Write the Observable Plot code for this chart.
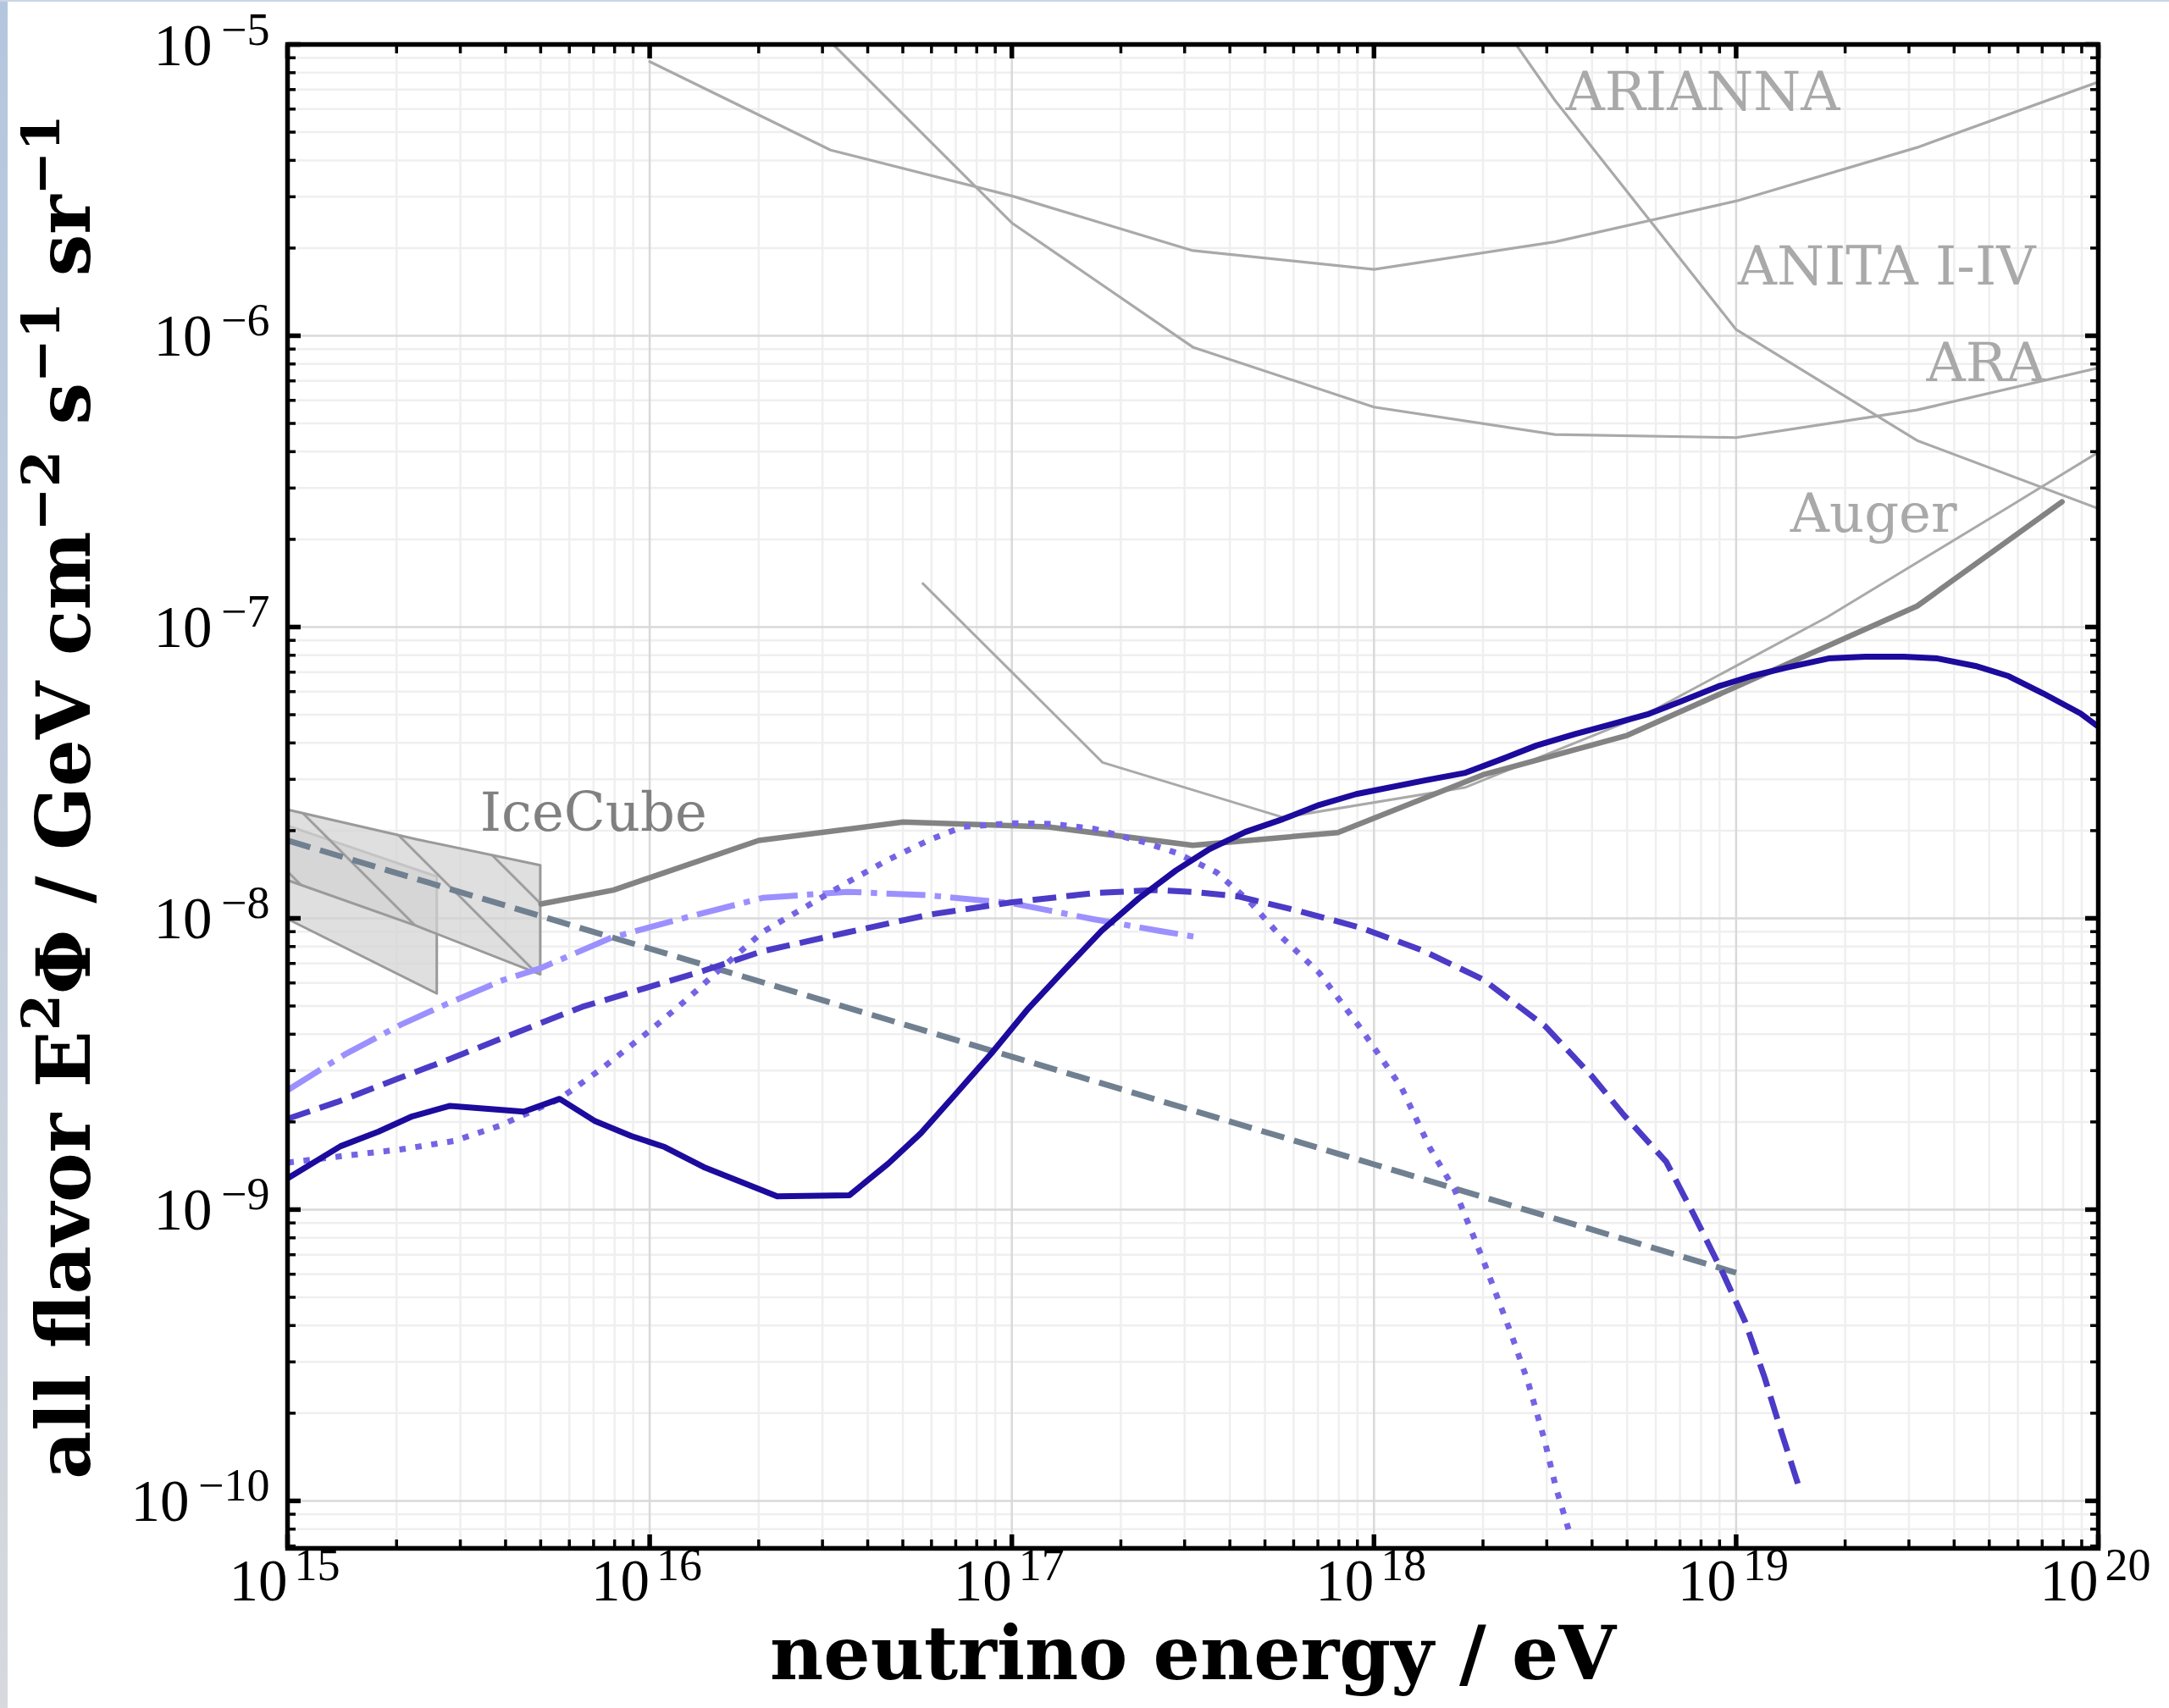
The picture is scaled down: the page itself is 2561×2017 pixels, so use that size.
<!DOCTYPE html>
<html>
<head>
<meta charset="utf-8">
<script src="https://cdn.jsdelivr.net/npm/d3@7"></script>
<script src="https://cdn.jsdelivr.net/npm/@observablehq/plot@0.6"></script>
<style>
  html, body { margin: 0; padding: 0; background: #ffffff; }
  #chart { position: absolute; left: 0; top: 0; }
  #edgeL { position: absolute; left: 0; top: 0; width: 9px; height: 2017px; background: linear-gradient(#b4c6de, #d6d9de); }
  #edgeT { position: absolute; left: 0; top: 0; width: 2561px; height: 2px; background: #c9d5e5; }
</style>
</head>
<body>
<div id="chart"></div>
<div id="edgeL"></div>
<div id="edgeT"></div>
<script>
// ---------------- data (energy in eV, flux E^2 Phi in GeV cm^-2 s^-1 sr^-1) ----------------
const xTickExponents = [15, 16, 17, 18, 19, 20];
const yTickExponents = [-5, -6, -7, -8, -9, -10];
const yDomainLow = 6.87e-11;
const yDomainHigh = 1e-5;

// solid model
const solidE = [1e15, 1.40e15, 1.78e15, 2.21e15, 2.81e15, 4.49e15, 5.64e15, 7.03e15, 8.89e15, 1.10e16, 1.41e16, 1.80e16, 2.25e16, 3.56e16, 4.56e16, 5.61e16, 6.93e16, 8.77e16, 1.11e17, 1.40e17, 1.77e17, 2.24e17, 2.84e17, 3.49e17, 4.42e17, 5.60e17, 7.06e17, 8.93e17, 1.39e18, 1.79e18, 2.28e18, 2.81e18, 3.59e18, 4.45e18, 5.68e18, 7.02e18, 8.91e18, 1.10e19, 1.37e19, 1.80e19, 2.28e19, 2.90e19, 3.60e19, 4.58e19, 5.66e19, 7.02e19, 8.93e19, 1e20];
const solidF = [1.28e-9, 1.65e-9, 1.85e-9, 2.09e-9, 2.27e-9, 2.17e-9, 2.40e-9, 2.02e-9, 1.79e-9, 1.64e-9, 1.40e-9, 1.24e-9, 1.11e-9, 1.12e-9, 1.44e-9, 1.83e-9, 2.46e-9, 3.43e-9, 4.90e-9, 6.67e-9, 9.06e-9, 1.17e-8, 1.46e-8, 1.72e-8, 1.98e-8, 2.19e-8, 2.45e-8, 2.67e-8, 2.98e-8, 3.16e-8, 3.54e-8, 3.92e-8, 4.29e-8, 4.61e-8, 5.01e-8, 5.55e-8, 6.25e-8, 6.78e-8, 7.24e-8, 7.80e-8, 7.91e-8, 7.91e-8, 7.80e-8, 7.35e-8, 6.78e-8, 5.93e-8, 5.05e-8, 4.55e-8];

// dashed model
const dashedE = [1e15, 1.37e15, 2.01e15, 2.81e15, 4.24e15, 6.52e15, 9.82e15, 1.41e16, 2.05e16, 3.52e16, 5.93e16, 1e17, 1.68e17, 2.49e17, 3.23e17, 4.20e17, 6.19e17, 9.18e17, 1.36e18, 2.00e18, 2.97e18, 3.99e18, 4.90e18, 6.41e18, 7.66e18, 9.16e18, 1.06e19, 1.20e19, 1.34e19, 1.50e19];
const dashedF = [2.05e-9, 2.34e-9, 2.81e-9, 3.29e-9, 4.03e-9, 4.97e-9, 5.78e-9, 6.61e-9, 7.71e-9, 8.95e-9, 1.03e-8, 1.135e-8, 1.22e-8, 1.25e-8, 1.23e-8, 1.19e-8, 1.06e-8, 9.29e-9, 7.76e-9, 6.17e-9, 4.26e-9, 2.88e-9, 2.11e-9, 1.46e-9, 9.55e-10, 6.11e-10, 4.11e-10, 2.64e-10, 1.69e-10, 1.09e-10];

// dotted model
const dottedE = [1e15, 1.44e15, 2.06e15, 2.88e15, 3.85e15, 5.64e15, 7.35e15, 1.00e16, 1.28e16, 1.51e16, 2.05e16, 3.52e16, 4.56e16, 5.93e16, 7.30e16, 1e17, 1.29e17, 1.68e17, 2.30e17, 2.84e17, 3.67e17, 4.54e17, 5.45e17, 7.06e17, 9.18e17, 1.19e18, 1.43e18, 1.67e18, 2.00e18, 2.38e18, 2.66e18, 2.96e18, 3.18e18, 3.48e18];
const dottedF = [1.45e-9, 1.53e-9, 1.61e-9, 1.72e-9, 1.94e-9, 2.40e-9, 3.04e-9, 4.11e-9, 5.33e-9, 6.43e-9, 8.97e-9, 1.33e-8, 1.59e-8, 1.86e-8, 2.06e-8, 2.12e-8, 2.11e-8, 2.03e-8, 1.83e-8, 1.68e-8, 1.44e-8, 1.14e-8, 8.83e-9, 6.50e-9, 4.20e-9, 2.63e-9, 1.62e-9, 1.17e-9, 6.73e-10, 3.81e-10, 2.57e-10, 1.61e-10, 1.11e-10, 7.66e-11];

// dash-dot model
const dashDotE = [1e15, 1.44e15, 2.06e15, 2.75e15, 3.94e15, 4.98e15, 7.82e15, 1.26e16, 2.05e16, 3.52e16, 5.93e16, 1e17, 1.68e17, 2.55e17, 3.19e17];
const dashDotF = [2.57e-9, 3.41e-9, 4.32e-9, 5.08e-9, 6.14e-9, 6.73e-9, 8.57e-9, 1.007e-8, 1.175e-8, 1.233e-8, 1.199e-8, 1.127e-8, 9.93e-9, 9.06e-9, 8.65e-9];

// slate dashed power law
const slateE = [1e15, 1e16, 1e17, 1e18, 1e19];
const slateF = [1.85e-8, 7.87e-9, 3.35e-9, 1.43e-9, 6.07e-10];

// IceCube limit (thick gray)
const iceLimitE = [5.01e15, 7.94e15, 2.00e16, 5.01e16, 1.26e17, 3.16e17, 7.94e17, 2.00e18, 5.01e18, 3.16e19, 7.94e19];
const iceLimitF = [1.12e-8, 1.25e-8, 1.85e-8, 2.14e-8, 2.06e-8, 1.78e-8, 1.97e-8, 3.11e-8, 4.25e-8, 1.18e-7, 2.69e-7];

// IceCube measured flux bands
const iceOuterE = [1e15, 2.27e15, 5.0e15];
const iceOuterHi = [2.355e-8, 1.862e-8, 1.517e-8];
const iceOuterLo = [1.349e-8, 9.40e-9, 6.40e-9];
const iceInnerE = [1e15, 2.59e15];
const iceInnerHi = [2.075e-8, 1.387e-8];
const iceInnerLo = [9.93e-9, 5.50e-9];

// thin gray limits
const augerE = [5.68e16, 1.78e17, 5.62e17, 1.78e18, 5.62e18, 1.78e19, 5.62e19, 1e20];
const augerF = [1.41e-7, 3.43e-8, 2.22e-8, 2.81e-8, 5.01e-8, 1.08e-7, 2.57e-7, 3.98e-7];
const ariannaE = [1e16, 3.16e16, 1e17, 3.16e17, 1e18, 3.16e18, 1e19, 3.16e19, 1e20];
const ariannaF = [8.73e-6, 4.34e-6, 3.02e-6, 1.96e-6, 1.69e-6, 2.10e-6, 2.90e-6, 4.43e-6, 7.43e-6];
const araE = [3.16e16, 1e17, 3.16e17, 1e18, 3.16e18, 1e19, 3.16e19, 1e20];
const araF = [1.02e-5, 2.44e-6, 9.14e-7, 5.69e-7, 4.58e-7, 4.47e-7, 5.56e-7, 7.75e-7];
const anitaE = [1e18, 3.16e18, 1e19, 3.16e19, 1e20];
const anitaF = [5.0e-5, 6.43e-6, 1.05e-6, 4.37e-7, 2.55e-7];

// annotation labels (anchored in data coordinates)
const grayLabels = [
  {name: "ARIANNA", E: 3.38e18, F: 5.96e-6},
  {name: "ANITA I-IV", E: 1.01e19, F: 1.50e-6},
  {name: "ARA", E: 3.35e19, F: 7.0e-7},
  {name: "Auger", E: 1.41e19, F: 2.13e-7}
];
const iceLabel = [{name: "IceCube", E: 3.40e15, F: 2.0e-8}];

// ---------------- helpers ----------------
const rows = (E, F) => E.map((e, i) => ({E: e, F: F[i]}));
const band = (E, lo, hi) => E.map((e, i) => ({E: e, lo: lo[i], hi: hi[i]}));

const xMajor = xTickExponents.map(e => Math.pow(10, e));
const yMajor = yTickExponents.map(e => Math.pow(10, e));
const xMinor = [];
for (let k = 15; k < 20; k++) for (let m = 2; m <= 9; m++) xMinor.push(m * Math.pow(10, k));
const yMinor = [];
for (let k = -11; k < -5; k++) for (let m = 2; m <= 9; m++) {
  const v = m * Math.pow(10, k);
  if (v > yDomainLow && v < yDomainHigh) yMinor.push(v);
}

const SERIF = "DejaVu Serif";
const TICKFONT = "Liberation Serif";
const gridMinor = {stroke: "#efefef", strokeWidth: 2.5};
const gridMajor = {stroke: "#d9d9d9", strokeWidth: 2.5};
const tickMajor = {stroke: "black", fill: "none", strokeWidth: 5.5, tickSize: -16};
const tickMinor = {stroke: "black", fill: "none", strokeWidth: 3.5, tickSize: -10};
const lineBase = {x: "E", y: "F", clip: true, strokeLinejoin: "round"};
const supText = e => (e < 0 ? "\u2212" + Math.abs(e) : String(e));
const LW = 7;

const plot = Plot.plot({
  width: 2561,
  height: 2017,
  marginLeft: 339,
  marginRight: 84,
  marginTop: 52,
  marginBottom: 189,
  style: {background: "white"},
  x: {type: "log", domain: [1e15, 1e20]},
  y: {type: "log", domain: [yDomainLow, yDomainHigh]},
  marks: [
    // grid
    Plot.ruleX(xMinor, gridMinor),
    Plot.ruleY(yMinor, gridMinor),
    Plot.ruleX(xMajor, gridMajor),
    Plot.ruleY(yMajor, gridMajor),

    // IceCube bands
    Plot.areaY(band(iceInnerE, iceInnerLo, iceInnerHi), {x: "E", y1: "lo", y2: "hi", fill: "#d3d3d3", fillOpacity: 0.73, stroke: "#9a9a9a", strokeWidth: 3}),
    Plot.areaY(band(iceOuterE, iceOuterLo, iceOuterHi), {x: "E", y1: "lo", y2: "hi", fill: "#d3d3d3", fillOpacity: 0.73}),
    Plot.areaY(band(iceOuterE, iceOuterLo, iceOuterHi), {x: "E", y1: "lo", y2: "hi", fill: "url(#iceHatch)"}),
    Plot.areaY(band(iceOuterE, iceOuterLo, iceOuterHi), {x: "E", y1: "lo", y2: "hi", fill: "none", stroke: "#9a9a9a", strokeWidth: 3}),

    // thin gray experiment limits
    Plot.line(rows(ariannaE, ariannaF), {...lineBase, stroke: "#a9a9a9", strokeWidth: 3.2}),
    Plot.line(rows(araE, araF), {...lineBase, stroke: "#a9a9a9", strokeWidth: 3.2}),
    Plot.line(rows(anitaE, anitaF), {...lineBase, stroke: "#a9a9a9", strokeWidth: 3.2}),
    Plot.line(rows(augerE, augerF), {...lineBase, stroke: "#a9a9a9", strokeWidth: 3}),

    // thick gray IceCube limit
    Plot.line(rows(iceLimitE, iceLimitF), {...lineBase, stroke: "#838383", strokeWidth: 6.5}),

    // slate power law
    Plot.line(rows(slateE, slateF), {...lineBase, stroke: "#708090", strokeWidth: LW, strokeDasharray: "28,12", strokeLinecap: "butt"}),

    // model curves
    Plot.line(rows(dashDotE, dashDotF), {...lineBase, stroke: "#9c90ff", strokeWidth: LW, strokeDasharray: "46,11,7.5,11", strokeLinecap: "butt"}),
    Plot.line(rows(dottedE, dottedF), {...lineBase, stroke: "#7464e4", strokeWidth: LW, strokeDasharray: "7.5,11.5", strokeLinecap: "butt"}),
    Plot.line(rows(dashedE, dashedF), {...lineBase, stroke: "#4b3bc6", strokeWidth: LW, strokeDasharray: "28,12", strokeLinecap: "butt"}),
    Plot.line(rows(solidE, solidF), {...lineBase, stroke: "#1c0b9c", strokeWidth: LW, strokeLinecap: "square"}),

    // annotations
    Plot.text(grayLabels, {x: "E", y: "F", text: "name", textAnchor: "start", lineAnchor: "bottom", fontFamily: SERIF, fontSize: 64, fill: "#a9a9a9"}),
    Plot.text(iceLabel, {x: "E", y: "F", text: "name", textAnchor: "start", lineAnchor: "bottom", fontFamily: SERIF, fontSize: 64, fill: "#808080"}),

    // tick labels x
    Plot.text(xTickExponents, {x: e => Math.pow(10, e), text: () => "10", frameAnchor: "bottom", textAnchor: "end", lineAnchor: "bottom", dy: 61, fontSize: 69, fontFamily: TICKFONT, fill: "black"}),
    Plot.text(xTickExponents, {x: e => Math.pow(10, e), text: supText, frameAnchor: "bottom", textAnchor: "start", lineAnchor: "bottom", dx: 8, dy: 37, fontSize: 54, fontFamily: TICKFONT, fill: "black"}),
    // tick labels y
    Plot.text(yTickExponents, {y: e => Math.pow(10, e), text: supText, frameAnchor: "left", textAnchor: "end", lineAnchor: "bottom", dx: -21, dy: 0, fontSize: 54, fontFamily: TICKFONT, fill: "black"}),
    Plot.text(yTickExponents.filter(e => e > -10), {y: e => Math.pow(10, e), text: () => "10", frameAnchor: "left", textAnchor: "end", lineAnchor: "bottom", dx: -89, dy: 24, fontSize: 69, fontFamily: TICKFONT, fill: "black"}),
    Plot.text(yTickExponents.filter(e => e <= -10), {y: e => Math.pow(10, e), text: () => "10", frameAnchor: "left", textAnchor: "end", lineAnchor: "bottom", dx: -116, dy: 24, fontSize: 69, fontFamily: TICKFONT, fill: "black"}),

    // x axis title
    Plot.text(["neutrino energy / eV"], {text: d => d, frameAnchor: "bottom", lineAnchor: "bottom", dy: 154, fontSize: 87, fontWeight: "bold", fontFamily: SERIF, fill: "black"}),

    // inward ticks on all four sides
    Plot.axisX(xMinor, {anchor: "bottom", ...tickMinor}),
    Plot.axisX(xMajor, {anchor: "bottom", ...tickMajor}),
    Plot.axisX(xMinor, {anchor: "top", ...tickMinor}),
    Plot.axisX(xMajor, {anchor: "top", ...tickMajor}),
    Plot.axisY(yMinor, {anchor: "left", ...tickMinor}),
    Plot.axisY(yMajor, {anchor: "left", ...tickMajor}),
    Plot.axisY(yMinor, {anchor: "right", ...tickMinor}),
    Plot.axisY(yMajor, {anchor: "right", ...tickMajor}),

    Plot.frame({stroke: "black", strokeWidth: 5.5})
  ]
});

// hatch pattern for the IceCube band
const NS = "http://www.w3.org/2000/svg";
const defs = document.createElementNS(NS, "defs");
const pat = document.createElementNS(NS, "pattern");
pat.setAttribute("id", "iceHatch");
pat.setAttribute("patternUnits", "userSpaceOnUse");
pat.setAttribute("width", "61.5");
pat.setAttribute("height", "61.5");
pat.setAttribute("patternTransform", "rotate(-45)");
const hl = document.createElementNS(NS, "line");
hl.setAttribute("x1", "4.3"); hl.setAttribute("x2", "4.3");
hl.setAttribute("y1", "-5"); hl.setAttribute("y2", "67");
hl.setAttribute("stroke", "#9a9a9a"); hl.setAttribute("stroke-width", "2.8");
pat.appendChild(hl);
defs.appendChild(pat);
plot.insertBefore(defs, plot.firstChild);

// y axis title with superscripts
const yParts = [["all flavor E", false], ["2", true], ["\u03A6 / GeV cm", false], ["\u22122", true], [" s", false], ["\u22121", true], [" sr", false], ["\u22121", true]];
const yl = document.createElementNS(NS, "text");
yl.setAttribute("transform", "translate(106,941) rotate(-90)");
yl.setAttribute("text-anchor", "middle");
yl.setAttribute("font-family", SERIF);
yl.setAttribute("font-weight", "bold");
yl.setAttribute("font-size", "88");
yl.setAttribute("fill", "black");
yl.setAttribute("style", "white-space:pre");
let raised = false;
for (const [t, sup] of yParts) {
  const ts = document.createElementNS(NS, "tspan");
  ts.textContent = t;
  if (sup && !raised) { ts.setAttribute("dy", "-36"); raised = true; }
  else if (!sup && raised) { ts.setAttribute("dy", "36"); raised = false; }
  if (sup) ts.setAttribute("font-size", "62");
  yl.appendChild(ts);
}
plot.appendChild(yl);

document.getElementById("chart").appendChild(plot);
</script>
</body>
</html>
